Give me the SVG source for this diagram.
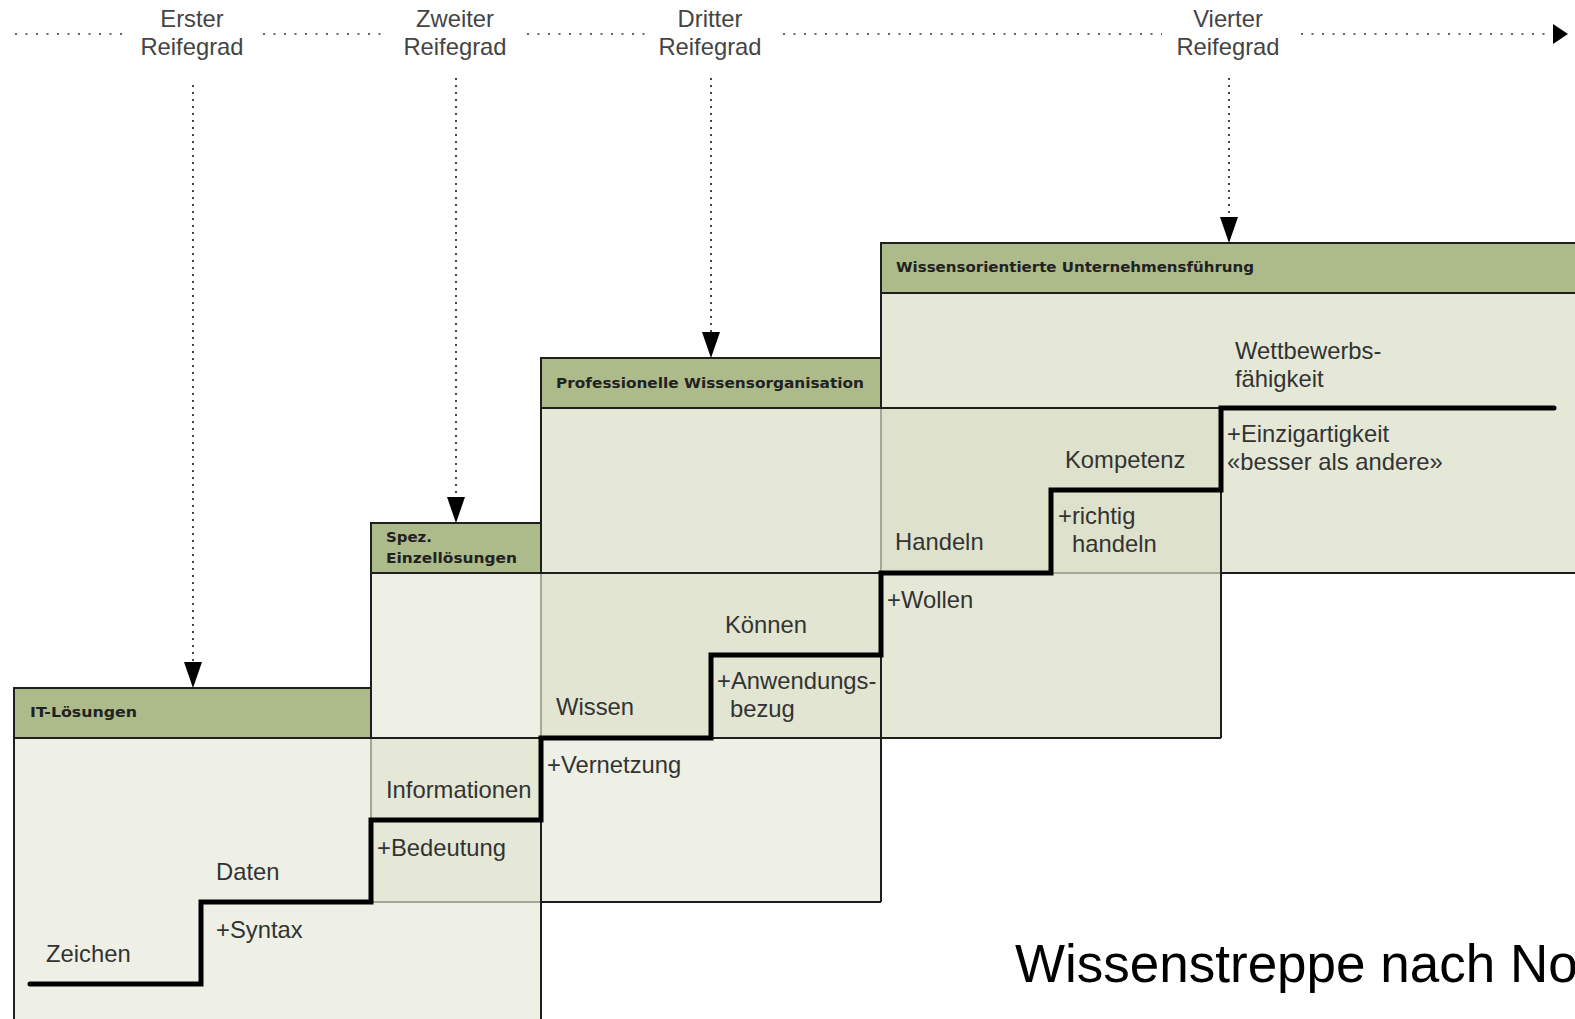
<svg xmlns="http://www.w3.org/2000/svg" width="1575" height="1019" viewBox="0 0 1575 1019">
<style>
.hdr{fill:#adba8a;stroke:#1e1e1e;stroke-width:2}
.L{fill:#eef0e6}
.M{fill:#e5e8d7}
.D2{fill:#e1e5d1}
.D{fill:#dee2cc}
.dk{stroke:#1e1e1e;stroke-width:2;fill:none}
.gr{stroke:#a3a797;stroke-width:2;fill:none}
.ht{font-family:"DejaVu Sans",sans-serif;font-weight:bold;font-size:13.5px;fill:#222}
.bt{font-family:"Liberation Sans",Arial,sans-serif;font-size:23.8px;fill:#333}
.lt{font-family:"Liberation Sans",Arial,sans-serif;font-size:23.8px;fill:#444;text-anchor:middle}
.hdot{stroke:#666;stroke-width:2;stroke-dasharray:2 8.5;fill:none}
.vdot{stroke:#444;stroke-width:2;stroke-dasharray:2 5;fill:none}
.stair{stroke:#000;stroke-width:5;fill:none;stroke-linecap:round;stroke-linejoin:miter}
.title{font-family:"Liberation Sans",Arial,sans-serif;font-size:53px;fill:#000}
</style>
<defs>
<marker id="ahV" viewBox="0 0 10 10" refX="0" refY="5" markerUnits="userSpaceOnUse" markerWidth="26" markerHeight="18" orient="auto" preserveAspectRatio="none">
<path d="M0,0 L10,5 L0,10 z" fill="#000"/>
</marker>
<marker id="ahH" viewBox="0 0 10 10" refX="0" refY="5" markerUnits="userSpaceOnUse" markerWidth="15" markerHeight="20" orient="auto" preserveAspectRatio="none">
<path d="M0,0 L10,5 L0,10 z" fill="#000"/>
</marker>
</defs>
<rect x="0" y="0" width="1575" height="1019" fill="#fff"/>

<g id="fills">
<rect class="L" x="14" y="738" width="357" height="290"/>
<rect class="L" x="371" y="573" width="170" height="450"/>
<rect class="L" x="541" y="738" width="340" height="164"/>
<rect class="M" x="371" y="738" width="170" height="164"/>
<rect class="M" x="541" y="408" width="340" height="165"/>
<rect class="M" x="881" y="293" width="700" height="280"/>
<rect class="M" x="881" y="573" width="340" height="165"/>
<rect class="D2" x="541" y="573" width="340" height="165"/>
<rect class="D" x="881" y="408" width="340" height="165"/>
</g>

<g id="lines">
<path class="gr" d="M371,738 V820 M541,573 V738 M371,902 H541 M881,408 V573 M1051,573 H1221"/>
<path class="dk" d="M14,738 V1025 M14,738 H1221 M371,573 V738 M541,738 V1025 M371,573 H881 M541,408 V573 M541,408 H1221 M541,902 H881 M881,655 V902 M881,293 V408 M1221,490 V738 M1221,573 H1580"/>
</g>

<g id="node-it">
<rect class="hdr" x="14" y="688" width="357" height="50"/>
<text class="ht" x="30" y="717" textLength="107" lengthAdjust="spacingAndGlyphs">IT-Lösungen</text>
</g>
<g id="node-spez">
<rect class="hdr" x="371" y="523" width="170" height="50"/>
<text class="ht" x="386" y="542" textLength="46" lengthAdjust="spacingAndGlyphs">Spez.</text>
<text class="ht" x="386" y="563" textLength="131" lengthAdjust="spacingAndGlyphs">Einzellösungen</text>
</g>
<g id="node-prof">
<rect class="hdr" x="541" y="358" width="340" height="50"/>
<text class="ht" x="556" y="388" textLength="308" lengthAdjust="spacingAndGlyphs">Professionelle Wissensorganisation</text>
</g>
<g id="node-wiss">
<rect class="hdr" x="881" y="243" width="700" height="50"/>
<text class="ht" x="896" y="272" textLength="358" lengthAdjust="spacingAndGlyphs">Wissensorientierte Unternehmensführung</text>
</g>

<g id="staircase">
<path class="stair" d="M30,984 H201 V902 H371 V820 H541 V738 H711 V655 H881 V573 H1051 V490 H1221 V408 H1554"/>
</g>

<g id="step-labels">
<text class="bt" x="46" y="962">Zeichen</text>
<text class="bt" x="216" y="880">Daten</text>
<text class="bt" x="216" y="938">+Syntax</text>
<text class="bt" x="386" y="798">Informationen</text>
<text class="bt" x="377" y="856">+Bedeutung</text>
<text class="bt" x="556" y="715">Wissen</text>
<text class="bt" x="547" y="773">+Vernetzung</text>
<text class="bt" x="725" y="633">Können</text>
<text class="bt" x="717" y="689">+Anwendungs-</text>
<text class="bt" x="730" y="717">bezug</text>
<text class="bt" x="895" y="550">Handeln</text>
<text class="bt" x="887" y="608">+Wollen</text>
<text class="bt" x="1065" y="468">Kompetenz</text>
<text class="bt" x="1058" y="524">+richtig</text>
<text class="bt" x="1072" y="552">handeln</text>
<text class="bt" x="1235" y="359">Wettbewerbs-</text>
<text class="bt" x="1235" y="387">fähigkeit</text>
<text class="bt" x="1227" y="442">+Einzigartigkeit</text>
<text class="bt" x="1227" y="470">«besser als andere»</text>
</g>

<g id="connectors">
<path class="hdot" d="M15,34 H127 M263,34 H385 M527,34 H645 M783,34 H1162"/>
<path class="hdot" d="M1301,34 H1553" marker-end="url(#ahH)"/>
<path class="vdot" d="M193,85 V662" marker-end="url(#ahV)"/>
<path class="vdot" d="M456,78 V497" marker-end="url(#ahV)"/>
<path class="vdot" d="M711,78 V332" marker-end="url(#ahV)"/>
<path class="vdot" d="M1229,78 V217" marker-end="url(#ahV)"/>
</g>

<g id="reifegrad-labels">
<g id="label-1"><text class="lt" x="192" y="27">Erster</text><text class="lt" x="192" y="55">Reifegrad</text></g>
<g id="label-2"><text class="lt" x="455" y="27">Zweiter</text><text class="lt" x="455" y="55">Reifegrad</text></g>
<g id="label-3"><text class="lt" x="710" y="27">Dritter</text><text class="lt" x="710" y="55">Reifegrad</text></g>
<g id="label-4"><text class="lt" x="1228" y="27">Vierter</text><text class="lt" x="1228" y="55">Reifegrad</text></g>
</g>

<text class="title" x="1015" y="982">Wissenstreppe nach No</text>
</svg>
